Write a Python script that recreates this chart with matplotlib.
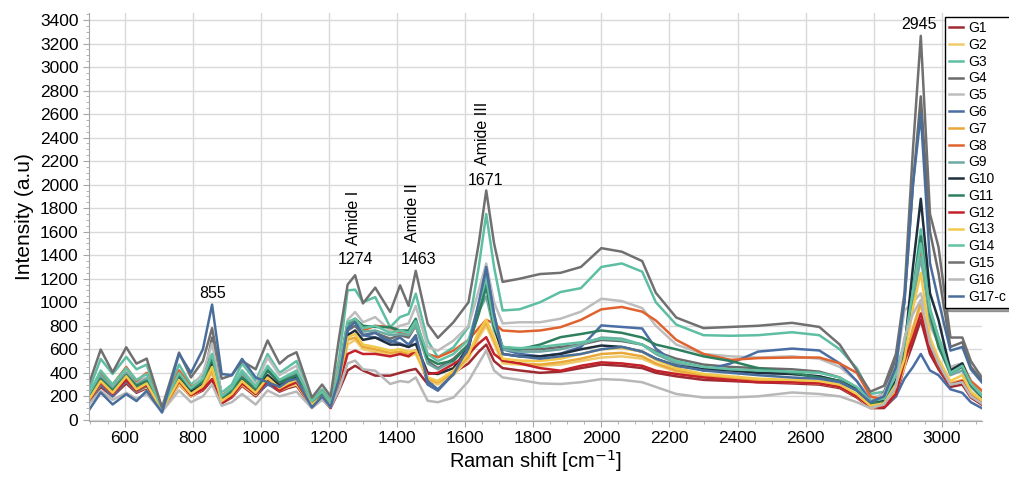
import matplotlib
matplotlib.use("Agg")
import matplotlib.pyplot as plt
from matplotlib.ticker import MultipleLocator

plt.rcParams['font.family'] = ['Liberation Sans', 'DejaVu Sans']

shift = [495, 530, 565, 605, 635, 665, 710, 760, 795, 830, 857, 885, 915, 945, 985, 1020, 1055, 1080, 1105, 1150, 1180, 1205,
         1230, 1255, 1277, 1300, 1336, 1380, 1409, 1434, 1455, 1490, 1520, 1566, 1610, 1640, 1662, 1685, 1710, 1760,
         1820, 1880, 1940, 2000, 2060, 2120, 2160, 2220, 2300, 2380, 2460, 2560, 2640, 2700, 2750, 2790,
         2830, 2865, 2890, 2915, 2938, 2965, 2990, 3025, 3060, 3085, 3117]

g1 = [140, 280, 200, 310, 230, 270, 75, 300, 200, 250, 340, 140, 190, 290, 200, 310, 240, 270, 290, 110, 180, 100,
      250, 420, 460, 420, 376, 376, 400, 420, 433, 305, 330, 400, 480, 580, 640, 500, 440, 420,
      400, 410, 440, 470, 460, 440, 400, 370, 340, 330, 320, 310, 300, 270, 190, 100,
      100, 200, 450, 650, 850, 560, 430, 280, 300, 190, 130]
g2 = [150, 300, 210, 330, 240, 280, 75, 300, 200, 260, 400, 150, 200, 300, 210, 330, 250, 280, 300, 120, 180, 110,
      300, 640, 680, 600, 580, 550, 560, 540, 560, 340, 300, 380, 520, 700, 800, 650, 480, 470,
      460, 470, 500, 530, 540, 520, 470, 410, 370, 350, 330, 320, 310, 280, 200, 100,
      120, 240, 450, 760, 980, 620, 460, 300, 330, 210, 140]
g3 = [250, 518, 390, 535, 430, 470, 90, 470, 300, 380, 560, 230, 300, 480, 330, 560, 400, 450, 500, 170, 260, 170,
      520, 1101, 1107, 1000, 1044, 788, 874, 900, 1073, 674, 532, 617, 790, 1300, 1750, 1300, 930, 940,
      1000, 1087, 1120, 1300, 1330, 1260, 1000, 810, 720, 715, 720, 745, 720, 600, 440, 220,
      240, 420, 650, 1100, 1620, 950, 700, 450, 480, 330, 230]
g4 = [180, 330, 230, 360, 270, 320, 90, 380, 250, 330, 700, 200, 260, 380, 270, 420, 310, 350, 390, 150, 230, 140,
      380, 760, 800, 720, 740, 690, 720, 700, 800, 500, 440, 520, 640, 950, 1200, 850, 620, 600,
      600, 620, 640, 680, 670, 640, 580, 520, 470, 450, 440, 430, 410, 360, 270, 150,
      230, 520, 1000, 2000, 2750, 1600, 1250, 620, 660, 450, 340]
g5 = [200, 380, 260, 420, 320, 360, 80, 420, 270, 400, 650, 220, 250, 420, 300, 530, 380, 420, 460, 150, 220, 150,
      450, 850, 917, 830, 874, 760, 800, 820, 969, 620, 589, 674, 800, 1100, 1330, 1000, 820, 830,
      830, 860, 920, 1030, 1010, 950, 800, 640, 560, 540, 530, 540, 520, 450, 330, 180,
      220, 450, 930, 1000, 1076, 800, 650, 450, 480, 330, 240]
g6 = [150, 300, 200, 330, 240, 290, 90, 350, 240, 310, 450, 170, 230, 330, 220, 300, 260, 290, 320, 140, 220, 130,
      330, 760, 845, 720, 700, 674, 650, 620, 703, 300, 248, 390, 600, 980, 1300, 900, 600, 561,
      540, 563, 620, 803, 790, 777, 606, 480, 420, 480, 580, 606, 590, 480, 330, 160,
      120, 200, 350, 450, 560, 420, 380, 260, 230, 150, 100]
g7 = [160, 320, 220, 350, 250, 300, 75, 320, 210, 270, 420, 150, 210, 320, 220, 340, 260, 290, 320, 120, 190, 110,
      320, 680, 700, 620, 600, 570, 580, 560, 580, 350, 320, 400, 540, 730, 830, 680, 500, 480,
      470, 490, 520, 560, 570, 540, 480, 420, 380, 360, 340, 330, 320, 290, 210, 110,
      130, 260, 480, 780, 1000, 640, 480, 310, 340, 220, 150]
g8 = [200, 400, 300, 450, 330, 400, 100, 420, 280, 330, 500, 200, 270, 380, 280, 430, 330, 370, 400, 160, 240, 150,
      430, 820, 845, 760, 800, 788, 740, 720, 803, 560, 532, 589, 680, 780, 850, 820, 760, 750,
      760, 788, 850, 940, 960, 920, 845, 680, 560, 510, 525, 530, 530, 480, 400, 200,
      170, 330, 600, 1050, 1450, 850, 650, 420, 470, 330, 250]
g9 = [190, 380, 270, 400, 300, 350, 90, 380, 260, 330, 530, 190, 260, 390, 270, 430, 330, 360, 400, 150, 230, 140,
      400, 800, 830, 750, 760, 720, 730, 720, 800, 480, 430, 500, 640, 920, 1050, 760, 600, 580,
      580, 600, 640, 700, 690, 640, 560, 480, 430, 410, 400, 390, 370, 330, 250, 140,
      170, 350, 600, 1000, 1380, 850, 640, 380, 420, 280, 190]
g10 = [170, 330, 230, 350, 260, 300, 85, 350, 240, 300, 480, 180, 240, 350, 250, 380, 290, 330, 370, 140, 220, 130,
       360, 720, 760, 680, 700, 640, 640, 620, 646, 400, 390, 440, 620, 950, 1160, 800, 561, 540,
       540, 560, 600, 632, 620, 580, 520, 460, 430, 420, 400, 390, 370, 330, 260, 140,
       160, 330, 600, 1300, 1880, 1076, 850, 420, 480, 300, 200]
g11 = [180, 350, 250, 380, 290, 330, 90, 380, 260, 320, 520, 180, 250, 360, 260, 420, 320, 350, 380, 150, 230, 140,
       400, 820, 860, 800, 790, 788, 760, 760, 860, 520, 475, 504, 640, 900, 1130, 800, 620, 600,
       640, 703, 730, 760, 740, 700, 640, 600, 540, 500, 440, 400, 360, 330, 250, 140,
       150, 310, 560, 1100, 1560, 900, 620, 400, 450, 300, 200]
g12 = [160, 320, 220, 340, 250, 300, 80, 330, 210, 260, 347, 140, 200, 310, 220, 330, 250, 290, 320, 120, 190, 110,
       300, 560, 589, 560, 561, 540, 560, 540, 589, 390, 400, 475, 560, 650, 703, 560, 504, 480,
       440, 418, 460, 489, 480, 460, 418, 390, 361, 340, 320, 319, 310, 280, 200, 110,
       110, 220, 504, 700, 905, 600, 460, 300, 330, 200, 140]
g13 = [170, 330, 230, 370, 260, 310, 80, 340, 220, 290, 450, 160, 220, 330, 230, 360, 270, 310, 340, 130, 200, 120,
       340, 700, 731, 640, 620, 589, 600, 580, 589, 361, 330, 420, 560, 750, 850, 700, 520, 504,
       500, 520, 560, 600, 610, 580, 510, 440, 390, 370, 350, 340, 330, 300, 220, 120,
       140, 300, 520, 950, 1250, 700, 520, 330, 380, 240, 170]
g14 = [220, 420, 300, 440, 340, 390, 95, 400, 270, 350, 560, 200, 270, 420, 280, 460, 340, 380, 420, 160, 240, 150,
       420, 830, 860, 780, 800, 740, 760, 740, 840, 560, 500, 560, 680, 980, 1200, 820, 620, 610,
       620, 640, 660, 690, 680, 640, 570, 500, 450, 430, 420, 410, 400, 360, 280, 160,
       180, 380, 646, 1100, 1500, 931, 700, 400, 460, 310, 210]
g15 = [300, 598, 404, 617, 478, 521, 105, 572, 361, 500, 780, 350, 380, 500, 430, 675, 478, 540, 575, 190, 300, 200,
       700, 1150, 1230, 990, 1124, 917, 1144, 969, 1267, 817, 697, 831, 1000, 1500, 1950, 1500, 1173, 1200,
       1240, 1250, 1300, 1460, 1430, 1350, 1080, 870, 780, 790, 800, 825, 790, 640, 420, 240,
       290, 560, 1076, 2300, 3265, 1750, 1470, 700, 700, 500, 360]
g16 = [130, 247, 170, 230, 180, 220, 70, 250, 150, 200, 300, 120, 150, 220, 130, 250, 200, 220, 240, 100, 170, 110,
       260, 480, 504, 430, 418, 305, 330, 320, 361, 162, 150, 190, 330, 480, 589, 420, 361, 340,
       310, 305, 320, 347, 340, 320, 280, 220, 190, 190, 200, 233, 220, 200, 150, 100,
       130, 280, 700, 900, 1020, 650, 480, 300, 320, 200, 140]
g17 = [80, 233, 131, 219, 160, 247, 62, 561, 400, 600, 980, 390, 380, 518, 360, 320, 280, 330, 350, 105, 200, 110,
       350, 780, 831, 720, 740, 660, 700, 640, 720, 330, 260, 390, 620, 1000, 1280, 900, 560, 540,
       520, 540, 560, 600, 620, 580, 520, 460, 420, 400, 380, 360, 350, 320, 250, 150,
       200, 450, 1016, 2000, 2600, 1332, 1016, 589, 620, 430, 320]

labels = ['G1', 'G2', 'G3', 'G4', 'G5', 'G6', 'G7', 'G8', 'G9', 'G10',
          'G11', 'G12', 'G13', 'G14', 'G15', 'G16', 'G17-c']
series = [g1, g2, g3, g4, g5, g6, g7, g8, g9, g10, g11, g12, g13, g14, g15, g16, g17]
colors = ['#9E2B31', '#F0CB6E', '#5DBEA3', '#6B6B6B', '#BDBDBD', '#4A6EA4', '#E9A83A', '#E0622E',
          '#6FA9A2', '#1F2E3D', '#2E7F5E', '#C4222B', '#F2C94C', '#63C1A4', '#707070', '#B8B8B8', '#4A6E9C']

# peak labels: (text, x, y)
peak_labels = [('855', 860, 1076), ('1274', 1277, 1366), ('1463', 1462, 1366),
               ('1671', 1659, 2032), ('2945', 2934, 3365)]
band_labels = [('Amide I', 1271, 1720), ('Amide II', 1445, 1760), ('Amide III', 1651, 2440)]

fig = plt.figure(figsize=(10.09, 4.79), dpi=100)
ax = fig.add_axes([0.088, 0.121, 0.885, 0.852])

for vals, lab, col in zip(series, labels, colors):
    ax.plot(shift, vals, color=col, lw=1.8, label=lab)

for txt, x, y in peak_labels:
    ax.text(x, y, txt, ha='center', va='center', fontsize=11.5)
for txt, x, y in band_labels:
    ax.text(x, y, txt, ha='center', va='center', fontsize=11.5, rotation=90)

ax.set_xlim(495, 3117)
ax.set_ylim(-10, 3460)
ax.xaxis.set_major_locator(MultipleLocator(200))
ax.xaxis.set_minor_locator(MultipleLocator(50))
ax.yaxis.set_major_locator(MultipleLocator(200))
ax.yaxis.set_minor_locator(MultipleLocator(50))
ax.grid(True, which='major', color='#D9D9D9', lw=1)
ax.set_axisbelow(True)
for s in ['top', 'right']:
    ax.spines[s].set_visible(False)
for s in ['left', 'bottom']:
    ax.spines[s].set_color('#A6A6A6')
ax.tick_params(which='both', colors='#A6A6A6', labelcolor='black', labelsize=12.5)
ax.tick_params(which='major', length=4)
ax.tick_params(which='minor', length=2.5)

ax.set_xlabel('Raman shift [cm$^{-1}$]', fontsize=14.5, labelpad=1)
ax.set_ylabel('Intensity (a.u)', fontsize=15)

fig.legend(loc='upper left', bbox_to_anchor=(945 / 1009, 1 - 17 / 479), borderaxespad=0,
           fontsize=10, handlelength=1.0, handletextpad=0.35, labelspacing=0.2, borderpad=0.3,
           frameon=True, fancybox=False, shadow=True, edgecolor='black', framealpha=1)

fig.savefig('out.png', dpi=100)
